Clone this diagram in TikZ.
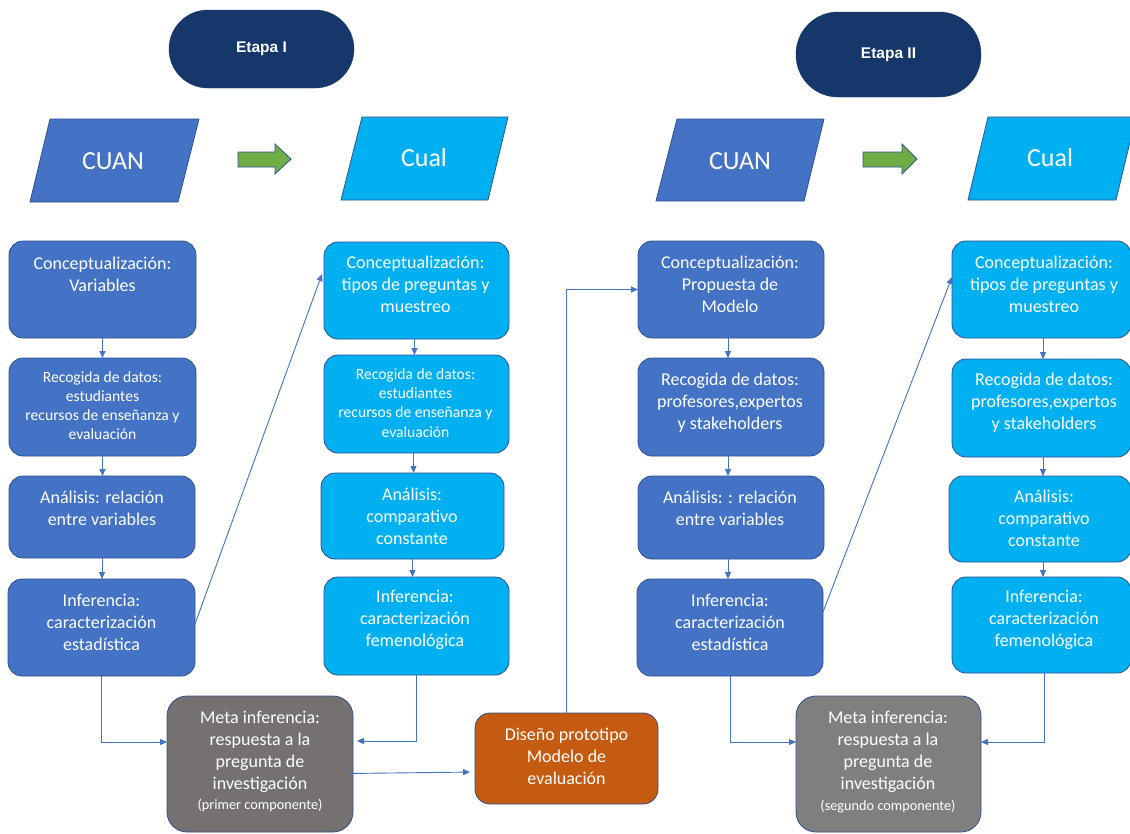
\documentclass[tikz,border=0pt]{standalone}
\usepackage{fontspec}
\setmainfont{Carlito}
\newfontfamily\arialfont{Liberation Sans}
\usetikzlibrary{arrows.meta}
\definecolor{navy}{HTML}{16376A}
\definecolor{cblue}{HTML}{4472C4}
\definecolor{cltblue}{HTML}{00B0F0}
\definecolor{bordc}{HTML}{2F528F}
\definecolor{grayA}{HTML}{767171}
\definecolor{grayB}{HTML}{7F7F7F}
\definecolor{orangeD}{HTML}{C55A11}
\definecolor{greenA}{HTML}{70AD47}
\definecolor{connc}{HTML}{4472C4}
\begin{document}
\begin{tikzpicture}[x=1pt,y=-1pt,
  box/.style={draw=bordc, line width=0.8pt, rounded corners=14pt, inner sep=0pt, outer sep=0pt},
  dkbox/.style={box, fill=cblue},
  ltbox/.style={box, fill=cltblue},
  metabox/.style={box, rounded corners=20pt},
  etapa/.style={fill=navy, draw=navy, text=white, inner sep=0pt, font=\arialfont\bfseries\fontsize{15.5}{18}\selectfont},
  para/.style={draw=bordc, line width=0.8pt},
  garrow/.style={fill=greenA, draw=bordc, line width=0.8pt},
  txt/.style={text=white, align=center, inner sep=0pt, font=\fontsize{18}{22}\selectfont},
  smtxt/.style={text=white, align=center, inner sep=0pt, font=\fontsize{15.6}{19.2}\selectfont},
  tinytxt/.style={text=white, align=center, inner sep=0pt, font=\fontsize{14.3}{17}\selectfont},
  bigtxt/.style={text=white, inner sep=0pt, font=\fontsize{26}{30}\selectfont},
  conn/.style={draw=connc, line width=0.9pt, -{Triangle[length=7pt,width=6pt]}},
]
\fill[white] (0,0) rectangle (1130,833);
\useasboundingbox (0,0) rectangle (1130,833);

% Etapa headers
\node[etapa, minimum width=185pt, minimum height=78pt, rounded corners=39pt] (e1) at (261.5,49) {Etapa I};
\node[etapa, minimum width=185pt, minimum height=85pt, rounded corners=42pt] (e2) at (888.5,54.5) {Etapa II};

% Parallelograms
\draw[para, fill=cblue] (50,119) -- (199,119) -- (178,202) -- (30,202) -- cycle;
\node[bigtxt] (cuan1) at (113,161) {CUAN};
\draw[para, fill=cltblue] (362,117) -- (508,117) -- (488,200) -- (341,200) -- cycle;
\node[bigtxt] (cual1) at (424,158) {Cual};
\draw[para, fill=cblue] (677,119) -- (824,119) -- (804,201) -- (656,201) -- cycle;
\node[bigtxt] (cuan2) at (740,161) {CUAN};
\draw[para, fill=cltblue] (988,117) -- (1136,117) -- (1116,200) -- (968,200) -- cycle;
\node[bigtxt] (cual2) at (1050,158) {Cual};

% Green arrows
\draw[garrow] (238,152) -- (275,152) -- (275,144) -- (291,159) -- (275,174) -- (275,167) -- (238,167) -- cycle;
\draw[garrow] (863,152) -- (902,152) -- (902,144) -- (917,159) -- (902,174) -- (902,167) -- (863,167) -- cycle;

% Left CUAN column
\node[dkbox, minimum width=187pt, minimum height=97pt] (l1) at (102.5,289.5) {};
\node[dkbox, minimum width=187pt, minimum height=98pt] (l2) at (102.5,407) {};
\node[dkbox, minimum width=186pt, minimum height=82pt] (l3) at (102,517) {};
\node[dkbox, minimum width=187pt, minimum height=97pt] (l4) at (101.5,627.5) {};
\node[txt] (tl1) at (102.5,274) {Conceptualización:\\Variables};
\node[smtxt] (tl2) at (102.5,405.5) {Recogida de datos:\\estudiantes\\recursos de enseñanza y\\evaluación};
\node[txt] (tl3) at (102,508) {Análisis: relación\\entre variables};
\node[txt] (tl4) at (101.5,622) {Inferencia:\\caracterización\\estadística};

% Left Cual column
\node[ltbox, minimum width=185pt, minimum height=97pt] (c1) at (416.5,290.5) {};
\node[ltbox, minimum width=185pt, minimum height=98pt] (c2) at (416.5,404) {};
\node[ltbox, minimum width=183pt, minimum height=86pt] (c3) at (412.5,516) {};
\node[ltbox, minimum width=185pt, minimum height=98pt] (c4) at (416.5,626) {};
\node[txt] (tc1) at (415.5,284) {Conceptualización:\\tipos de preguntas y\\muestreo};
\node[smtxt] (tc2) at (415.5,403) {Recogida de datos:\\estudiantes\\recursos de enseñanza y\\evaluación};
\node[txt] (tc3) at (412,516) {Análisis:\\comparativo\\constante};
\node[txt] (tc4) at (415,620) {Inferencia:\\caracterización\\femenológica};

% Meta inferencia left
\node[metabox, fill=grayA, minimum width=186pt, minimum height=136pt] (ml) at (260,764) {};
\node[txt] (tml) at (260,752) {Meta inferencia:\\respuesta a la\\pregunta de\\investigación};
\node[tinytxt] (tml2) at (260,805) {(primer componente)};

% Diseño
\node[box, fill=orangeD, minimum width=183pt, minimum height=91pt, rounded corners=15pt] (ds) at (566.5,758.5) {};
\node[txt] (tds) at (566.5,756) {Diseño prototipo\\Modelo de\\evaluación};

% Right CUAN column
\node[dkbox, minimum width=186pt, minimum height=97pt] (r1) at (731,289.5) {};
\node[dkbox, minimum width=186pt, minimum height=98pt] (r2) at (731,407) {};
\node[dkbox, minimum width=186pt, minimum height=83pt] (r3) at (731,517.5) {};
\node[dkbox, minimum width=186pt, minimum height=97pt] (r4) at (730,627.5) {};
\node[txt] (tr1) at (730,284) {Conceptualización:\\Propuesta de\\Modelo};
\node[txt] (tr2) at (730,403) {Recogida de datos:\\profesores,expertos\\y stakeholders};
\node[txt] (tr3) at (730,508) {Análisis: : relación\\entre variables};
\node[txt] (tr4) at (730,622) {Inferencia:\\caracterización\\estadística};

% Right Cual column
\node[ltbox, minimum width=179pt, minimum height=97pt] (q1) at (1041.5,289.5) {};
\node[ltbox, minimum width=179pt, minimum height=98pt] (q2) at (1041.5,408) {};
\node[ltbox, minimum width=182pt, minimum height=86pt] (q3) at (1040,519) {};
\node[ltbox, minimum width=179pt, minimum height=96pt] (q4) at (1041.5,625) {};
\node[txt] (tq1) at (1044,284) {Conceptualización:\\tipos de preguntas y\\muestreo};
\node[txt] (tq2) at (1044,403) {Recogida de datos:\\profesores,expertos\\y stakeholders};
\node[txt] (tq3) at (1044,518) {Análisis:\\comparativo\\constante};
\node[txt] (tq4) at (1044,620) {Inferencia:\\caracterización\\femenológica};

% Meta inferencia right
\node[metabox, fill=grayB, minimum width=185pt, minimum height=136pt] (mr) at (888.5,764) {};
\node[txt] (tmr) at (888,752) {Meta inferencia:\\respuesta a la\\pregunta de\\investigación};
\node[tinytxt] (tmr2) at (888,806) {(segundo componente)};

% Connectors: vertical
\draw[conn] (l1.south) -- (l1.south |- l2.north);
\draw[conn] (l2.south) -- (l2.south |- l3.north);
\draw[conn] (l3.south) -- (l3.south |- l4.north);
\draw[conn] ([xshift=-2pt]c1.south) -- ([xshift=-2pt]c1.south |- c2.north);
\draw[conn] ([xshift=-3pt]c2.south) -- ([xshift=-3pt]c2.south |- c3.north);
\draw[conn] (c3.south) -- (c3.south |- c4.north);
\draw[conn] ([xshift=-3pt]r1.south) -- ([xshift=-3pt]r1.south |- r2.north);
\draw[conn] ([xshift=-3pt]r2.south) -- ([xshift=-3pt]r2.south |- r3.north);
\draw[conn] ([xshift=-3pt]r3.south) -- ([xshift=-3pt]r3.south |- r4.north);
\draw[conn] ([xshift=1.5pt]q1.south) -- ([xshift=1.5pt]q1.south |- q2.north);
\draw[conn] ([xshift=1.5pt]q2.south) -- ([xshift=1.5pt]q2.south |- q3.north);
\draw[conn] ([xshift=3pt]q3.south) -- ([xshift=3pt]q3.south |- q4.north);

% Connectors: diagonals
\draw[conn] ([yshift=3.5pt]l4.east) -- ([yshift=16.5pt,xshift=-2pt]c1.west);
\draw[conn] ([yshift=15.5pt]r4.east) -- ([yshift=12.5pt]q1.west);

% Connectors to meta inferencia
\draw[conn] (l4.south) |- ([yshift=22pt]ml.west);
\draw[conn] (c4.south) |- ([yshift=23pt,xshift=4pt]ml.east);
\draw[conn] (r4.south) |- ([yshift=22pt]mr.west);
\draw[conn] ([xshift=2.5pt]q4.south) |- ([yshift=22pt]mr.east);

% Meta -> Diseño -> Propuesta
\draw[conn, shorten >=5pt] ([yshift=-9.5pt,xshift=-5pt]ml.east) -- ([yshift=-13.5pt]ds.west);
\draw[conn] (ds.north) |- (r1.west);
\end{tikzpicture}
\end{document}
